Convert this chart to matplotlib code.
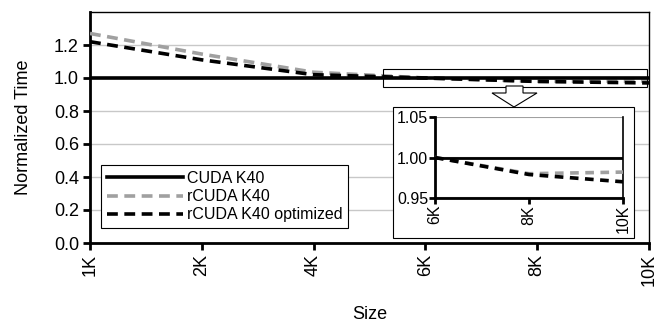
import numpy as np
import matplotlib
matplotlib.use("Agg")
import matplotlib.pyplot as plt
from matplotlib.patches import Rectangle, Polygon

plt.rcParams['font.family'] = ['Liberation Sans', 'DejaVu Sans']

# data
sizes = ["1K", "2K", "4K", "6K", "8K", "10K"]
cuda_k40 = [1.0, 1.0, 1.0, 1.0, 1.0, 1.0]
rcuda_k40 = [1.27, 1.145, 1.035, 1.0, 0.980, 0.982]
rcuda_k40_opt = [1.22, 1.11, 1.02, 1.0, 0.979, 0.970]
main_yticks = [0.0, 0.2, 0.4, 0.6, 0.8, 1.0, 1.2]
inset_yticks = [0.95, 1.00, 1.05]

W, H = 657, 322
fig = plt.figure(figsize=(W / 100, H / 100), dpi=100)

def fx(px):
    return px / W

def fy(py):
    return 1 - py / H

ax = fig.add_axes([fx(90), fy(243), fx(649) - fx(90), fy(12) - fy(243)])
x = np.arange(len(sizes))

dash = (0, (3, 1.8))
ax.plot(x, cuda_k40, color='black', lw=2.6, label='CUDA K40', zorder=4)
ax.plot(x, rcuda_k40, color='#a0a0a0', lw=2.6, linestyle=dash, label='rCUDA K40', zorder=3)
ax.plot(x, rcuda_k40_opt, color='black', lw=2.6, linestyle=dash, label='rCUDA K40 optimized', zorder=5)

ax.set_xlim(0, len(sizes) - 1)
ax.set_ylim(0, 1.4)
ax.set_xticks(x)
ax.set_xticklabels(sizes, rotation=90, fontsize=13)
ax.set_yticks(main_yticks)
ax.set_yticklabels([f"{v:.1f}" for v in main_yticks], fontsize=13)
ax.yaxis.grid(True, color='#c8c8c8', lw=1)
ax.set_axisbelow(True)
ax.tick_params(direction='out', length=5, width=2, pad=3)
for s in ['left', 'bottom']:
    ax.spines[s].set_linewidth(2)
for s in ['top', 'right']:
    ax.spines[s].set_linewidth(1)
ax.set_ylabel('Normalized Time', fontsize=13, labelpad=16)
ax.set_xlabel('Size', fontsize=13, labelpad=14)

leg = ax.legend(loc='lower left', bbox_to_anchor=(0.02, 0.065), borderaxespad=0,
                fancybox=False, edgecolor='black', framealpha=1, fontsize=11.5,
                handlelength=4.8, handletextpad=0.2, labelspacing=0.2,
                borderpad=0.35)
leg.get_frame().set_linewidth(0.8)

# magnifier box on main axes
ax.add_patch(Rectangle((2.62, 0.946), 4.98 - 2.62, 1.054 - 0.946, fill=False,
                       edgecolor='black', lw=0.8, zorder=6))

# arrow
arrow = [(506, 86), (523, 86), (523, 93), (537, 93), (514, 107),
         (492, 93), (506, 93)]
fig.patches.append(Polygon([(fx(a), fy(b)) for a, b in arrow], closed=True,
                           facecolor='white', edgecolor='black', lw=0.8,
                           transform=fig.transFigure, zorder=10))

# inset background box
fig.patches.append(Rectangle((fx(393), fy(238)), fx(634) - fx(393), fy(107) - fy(238),
                             facecolor='white', edgecolor='black', lw=0.8,
                             transform=fig.transFigure, zorder=10))

ins = fig.add_axes([fx(435), fy(198), fx(623) - fx(435), fy(117) - fy(198)], zorder=11)
ins.patch.set_alpha(0)
xi = np.arange(3)
ins.plot(xi, cuda_k40[3:], color='black', lw=2, zorder=4)
ins.plot(xi, rcuda_k40[3:], color='#a0a0a0', lw=2.6, linestyle=(0, (2.4, 1.8)), zorder=3)
ins.plot(xi, rcuda_k40_opt[3:], color='black', lw=2.6, linestyle=(0, (2.4, 1.8)), zorder=5)
ins.set_xlim(0, 2)
ins.set_ylim(0.95, 1.05)
ins.set_xticks(xi)
ins.set_xticklabels(sizes[3:], rotation=90, fontsize=11.5)
ins.set_yticks(inset_yticks)
ins.set_yticklabels([f"{v:.2f}" for v in inset_yticks], fontsize=11.5)
ins.yaxis.grid(True, color='#a0a0a0', lw=1.5)
ins.tick_params(direction='out', length=4, width=2, pad=1)
for s in ['left', 'bottom']:
    ins.spines[s].set_linewidth(2)
ins.spines['top'].set_visible(False)
ins.spines['right'].set_linewidth(1.2)

fig.savefig('out.png', dpi=100)
